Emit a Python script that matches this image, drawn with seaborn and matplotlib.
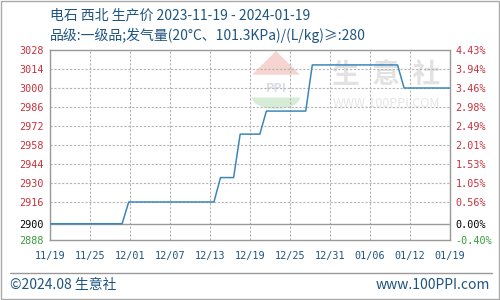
import matplotlib
matplotlib.use("Agg")
import matplotlib.pyplot as plt
import matplotlib.dates as mdates
import matplotlib.patches as mpatches
import numpy as np
import pandas as pd
import seaborn as sns

# ---- data ----
dates = ["2023-11-19", "2023-11-30", "2023-12-01", "2023-12-14", "2023-12-15",
         "2023-12-17", "2023-12-18", "2023-12-21", "2023-12-22", "2023-12-28",
         "2023-12-29", "2024-01-11", "2024-01-12", "2024-01-19"]
prices = [2900, 2900, 2916, 2916, 2934, 2934, 2966, 2966, 2983, 2983,
          3017, 3017, 3000, 3000]
left_ticks = [3028, 3014, 3000, 2986, 2972, 2958, 2944, 2930, 2916, 2900, 2888]
right_labels = ["4.43%", "3.94%", "3.46%", "2.98%", "2.49%", "2.01%", "1.53%",
                "1.05%", "0.56%", "0.00%", "-0.40%"]
x_labels = ["11/19", "11/25", "12/01", "12/07", "12/13", "12/19", "12/25",
            "12/31", "01/06", "01/12", "01/19"]
title1 = "电石 西北 生产价 2023-11-19 - 2024-01-19"
title2 = "品级:一级品;发气量(20°C、101.3KPa)/(L/kg)≥:280"

df = pd.DataFrame({"date": pd.to_datetime(dates), "price": prices})

sns.set_style("white")
plt.rcParams['font.family'] = ['Noto Sans CJK SC', 'DejaVu Sans']

RED = "#c8323c"
GREEN = "#3a9a3a"
BLUE_TXT = "#1f5580"
LINE = "#3d86b8"
GRID = "#b4b4b4"

fig = plt.figure(figsize=(5, 3), dpi=100)
ax = fig.add_axes([50/500, 60/300, 400/500, 190/300])

ymin, ymax = 2888, 3028
x0 = mdates.date2num(pd.Timestamp("2023-11-19"))
x1 = mdates.date2num(pd.Timestamp("2024-01-19"))
xt = np.linspace(x0, x1, len(x_labels))

# watermark
ax.text(0.84, 0.87, "生  意  社", transform=ax.transAxes, fontsize=20,
        color="#e2e2e2", ha="center", va="center", fontweight="bold", zorder=0.5)
ax.text(0.84, 0.72, "WWW.100PPI.COM", transform=ax.transAxes, fontsize=9,
        color="#e6e6e6", ha="center", va="center", zorder=0.5)
tri = mpatches.Polygon([[0.505, 0.87], [0.565, 0.995], [0.625, 0.87]],
                       closed=True, transform=ax.transAxes, color="#f6d4cf",
                       zorder=0.5, lw=0)
ax.add_patch(tri)
ax.text(0.565, 0.80, "PPI", transform=ax.transAxes, fontsize=9,
        color="#d8dde6", ha="center", va="center", fontweight="bold", zorder=0.5)
semi = mpatches.Wedge((0.565, 0.75), 0.06, 180, 360, transform=ax.transAxes,
                      color="#d6ecd6", zorder=0.5, lw=0)
ax.add_patch(semi)

sns.lineplot(data=df, x="date", y="price", ax=ax, color=LINE, lw=1.1, zorder=3)

ax.set_xlim(x0, x1)
ax.set_ylim(ymin, ymax)
ax.set_xlabel("")
ax.set_ylabel("")
ax.set_yticks(left_ticks)
ax.set_xticks(xt)

ax.set_yticklabels([str(v) for v in left_ticks], family="DejaVu Sans Mono",
                   fontsize=7.3)
for lab, v in zip(ax.get_yticklabels(), left_ticks):
    lab.set_color("#000000" if v == 2900 else (GREEN if v < 2900 else RED))
ax.set_xticklabels(x_labels, family="DejaVu Sans Mono", fontsize=7.3,
                   color=BLUE_TXT)
ax.tick_params(axis="both", length=0, pad=8)
ax.tick_params(axis="y", pad=22)
for lab in ax.get_yticklabels():
    lab.set_horizontalalignment("left")
for s in ax.spines.values():
    s.set_color("#999999")
    s.set_linewidth(1.0)

# grid: vertical via axis grid, horizontal drawn explicitly at tick values
ax.grid(True, axis="x", color=GRID, lw=0.8, ls=(0, (2, 1.5)))
inner = [v for v in left_ticks if ymin < v < ymax and v != 2900]
ax.hlines(inner, x0, x1, colors=GRID, linewidths=0.8,
          linestyles=(0, (2, 1.5)), zorder=1.5)
ax.hlines([2900], x0, x1, colors="#999999", linewidths=1.0, zorder=2)

ax2 = ax.twinx()
ax2.set_ylim(ymin, ymax)
ax2.set_yticks(left_ticks)
ax2.set_yticklabels(right_labels, family="DejaVu Sans Mono", fontsize=7.3)
for lab, v in zip(ax2.get_yticklabels(), left_ticks):
    lab.set_color("#000000" if v == 2900 else (GREEN if v < 2900 else RED))
ax2.tick_params(axis="y", length=0, pad=4)
for s in ax2.spines.values():
    s.set_visible(False)

fig.text(50/500, 1 - 15/300, title1, fontsize=10, color=BLUE_TXT,
         ha="left", va="center")
fig.text(50/500, 1 - 35/300, title2, fontsize=10, color=BLUE_TXT,
         ha="left", va="center")

# footer
fig.add_artist(plt.Line2D([10/500, 492/500], [1 - 273/300, 1 - 273/300],
                          color="#999999", lw=1.0))
fig.text(10/500, 1 - 285/300, "©2024.08 生意社", fontsize=10, color=BLUE_TXT,
         ha="left", va="center")
fig.text(490/500, 1 - 285/300, "www.100PPI.com", fontsize=10, color=BLUE_TXT,
         ha="right", va="center")
fig.add_artist(mpatches.Rectangle((0.001, 0.002), 0.997, 0.995,
                                  transform=fig.transFigure, fill=False,
                                  edgecolor="#aaaaaa", lw=1.0))

fig.savefig("out.png", dpi=100)
